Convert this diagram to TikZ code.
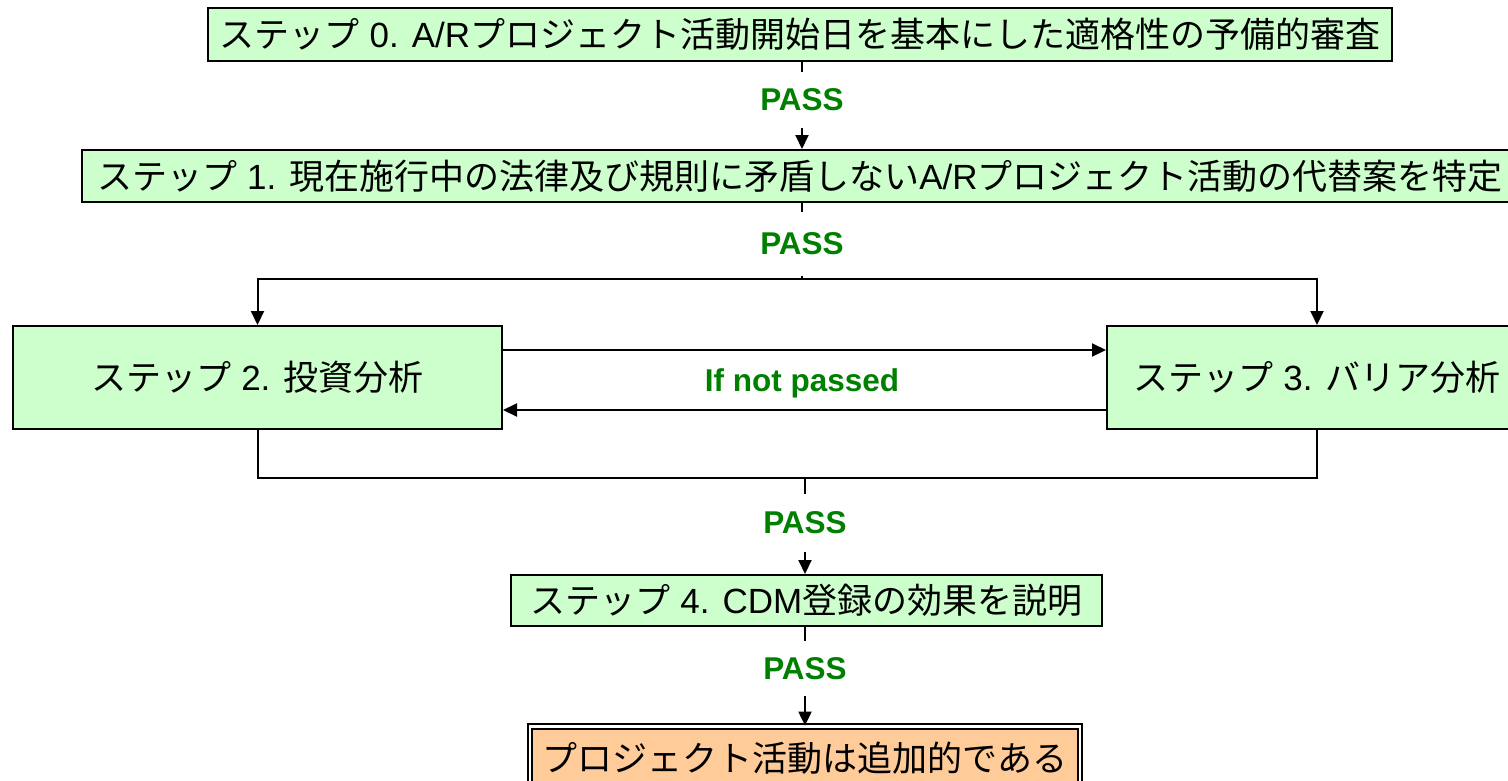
\documentclass[tikz,border=0pt]{standalone}
\usepackage{fontspec}
\setmainfont{Liberation Sans}
\newfontfamily\cjk{Noto Sans CJK JP}
\usetikzlibrary{arrows.meta}
\definecolor{boxgreen}{HTML}{CCFFCC}
\definecolor{boxorange}{HTML}{FFCC99}
\definecolor{passgreen}{HTML}{008000}
\tikzset{
  stepbox/.style={draw=black, line width=2pt, fill=boxgreen, inner sep=0pt,
    font=\fontsize{35}{41}\selectfont},
  endbox/.style={draw=black, line width=1.8pt, double=white, double distance=2.5pt,
    fill=boxorange, inner sep=0pt, font=\fontsize{35}{41}\selectfont},
  passlbl/.style={inner sep=0pt, text=passgreen,
    font=\fontsize{31.5}{37}\selectfont\bfseries},
  conn/.style={line width=2pt, draw=black},
  arr/.style={conn, -{Triangle[length=14pt,width=13pt]}}
}
\begin{document}
\begin{tikzpicture}[x=1pt,y=-1pt]
\useasboundingbox (0,0) rectangle (1508,780);
% boxes
\node[stepbox, minimum width=1184pt, minimum height=53pt] (s0) at (800,34.5)
  {{\cjk ステップ} 0. A/R{\cjk プロジェクト活動開始日を基本にした適格性の予備的審査}};
\node[stepbox, minimum width=1436pt, minimum height=52pt] (s1) at (800,176)
  {{\cjk ステップ} 1. {\cjk 現在施行中の法律及び規則に矛盾しない}A/R{\cjk プロジェクト活動の代替案を特定}};
\node[stepbox, minimum width=489pt, minimum height=103pt] (s2) at (257.5,377.5)
  {{\cjk ステップ} 2. {\cjk 投資分析}};
\node[stepbox, minimum width=420pt, minimum height=103pt] (s3) at (1317,377.5)
  {{\cjk ステップ} 3. {\cjk バリア分析}};
\node[stepbox, minimum width=591pt, minimum height=51pt] (s4) at (806.5,600.5)
  {{\cjk ステップ} 4. CDM{\cjk 登録の効果を説明}};
\node[endbox, minimum width=550pt, minimum height=64pt] (s5) at (805,758.5)
  {\cjk プロジェクト活動は追加的である};
% labels
\node[passlbl, minimum height=56pt] (p1) at (802,100) {PASS};
\node[passlbl, minimum height=63pt] (p2) at (802,244) {PASS};
\node[passlbl, minimum height=58pt] (p3) at (805,523) {PASS};
\node[passlbl, minimum height=54pt] (p4) at (805,668.5) {PASS};
\node[passlbl] (nf) at (802,383) {If not passed};
\coordinate (j1) at (802,279);
\coordinate (j2) at (805,478);
% connectors
\draw[conn] (p1.north |- s0.south) -- (p1.north);
\draw[arr] (p1.south) -- (p1.south |- s1.north);
\draw[conn] (p2.north |- s1.south) -- (p2.north);
\draw[conn] (p2.south) -- (j1);
\draw[arr] (j1) -| (s2.north);
\draw[arr] (j1) -| (s3.north);
\draw[arr] (s2.east |- 0,350) -- (s3.west |- 0,350);
\draw[arr] (s3.west |- 0,410) -- (s2.east |- 0,410);
\draw[conn] (s2.south) |- (j2);
\draw[conn] (s3.south) |- (j2);
\draw[conn] (j2) -- (p3.north);
\draw[arr] (p3.south) -- (p3.south |- s4.north);
\draw[conn] (p4.north |- s4.south) -- (p4.north);
\draw[arr] (p4.south) -- (p4.south |- s5.north);
\end{tikzpicture}
\end{document}
